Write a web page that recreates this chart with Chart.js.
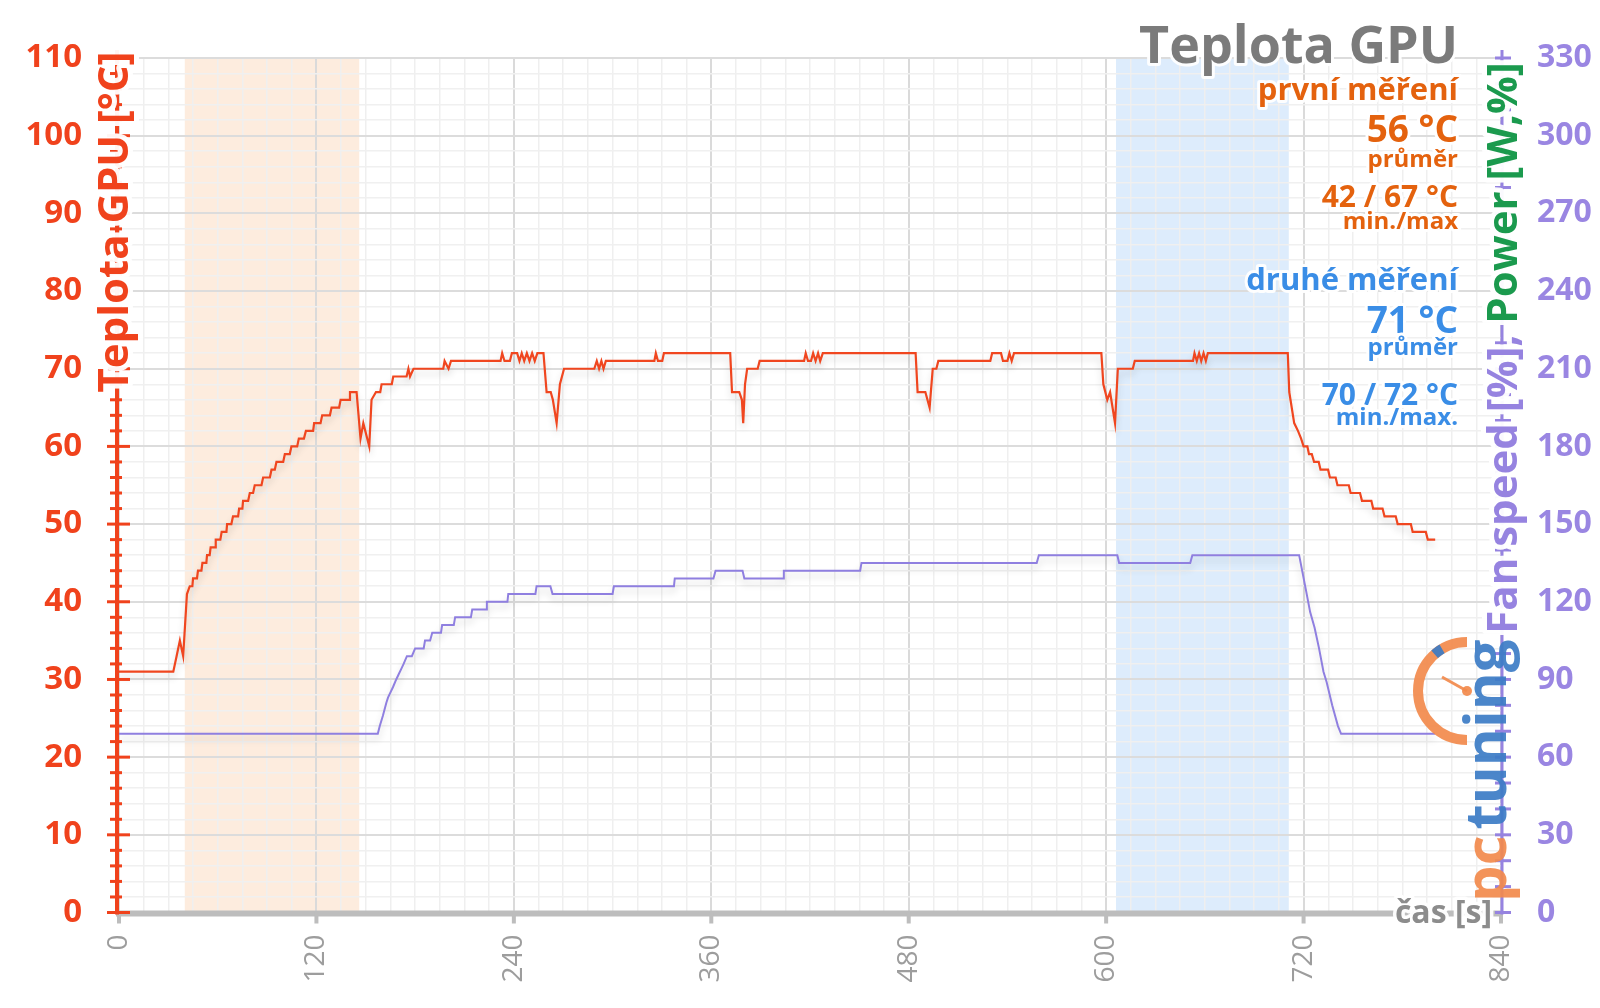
<!DOCTYPE html>
<html lang="cs">
<head>
<meta charset="UTF-8">
<title>Teplota GPU</title>
<script src="https://cdn.jsdelivr.net/npm/chart.js"></script>
<style>
  html, body { margin: 0; padding: 0; background: #fff; }
  #graf { display: block; }
</style>
</head>
<body>
<canvas id="graf" width="1600" height="1008"></canvas>
<script>
// teplota GPU [°C] v case [s]
const tempTime = [
  0, 33, 35, 37, 39, 41.3,
  43, 44.6, 45, 47.4, 48, 50.1, 50.7, 53.1, 53.5, 55.1,
  55.7, 58.4, 58.8, 61.6, 62.4, 65.3, 65.7, 68.3, 69.3, 72.4,
  73, 75, 75.4, 78.5, 79.5, 81.5, 82.5, 86.6, 87.6, 91.7,
  92.7, 94.7, 95.7, 99.8, 100.8, 103.8, 104.8, 108.3, 109.3, 112.4,
  113.6, 118, 118.6, 122.5, 123.5, 128.2, 129.2, 133.8, 134.7, 139.9,
  140.4, 144.4, 146.8, 148.5, 152.1, 153.5, 156.2, 158.8, 159.6, 165.8,
  166.7, 174.8, 175.9, 176.9, 179, 197.1, 197.9, 200.3, 201.8, 231.9,
  232.9, 234.3, 237.6, 238.8, 242, 243.4, 244.8, 246.3, 247.9, 249.5,
  251.1, 252.7, 254.3, 258, 259.9, 262.4, 263.7, 266, 268, 270.5,
  288.9, 290.4, 291.8, 293.2, 294.5, 295.9, 325.4, 326.3, 327.6, 330.2,
  331.2, 371.5, 372.6, 377, 378.6, 379.4, 380.5, 381.8, 388.2, 389.4,
  416.4, 417.4, 418.8, 420.6, 421.9, 423.4, 424.9, 426.2, 427.8, 484.2,
  485.4, 490.1, 492.7, 494.6, 496.8, 498, 529.6, 530.7, 536.1, 537.3,
  540, 541.2, 542.6, 544, 597.1, 598.3, 600.7, 602.4, 605.4, 607.1,
  616.2, 617.4, 652.8, 653.7, 655.1, 656.5, 657.8, 659.2, 660.6, 661.8,
  710.4, 711.3, 714.3, 716.6, 718.5, 720, 722.3, 723.3, 725, 726.4,
  729.2, 730.3, 734.9, 736, 739.5, 740.6, 747.5, 748.6, 754.3, 755.5,
  761.2, 762.3, 768, 769.2, 776, 777.2, 785.2, 786.3, 794.3, 795.5, 800
];
const tempValues = [
  31, 31, 33, 35, 33, 41,
  42, 42, 43, 43, 44, 44, 45, 45, 46, 46,
  47, 47, 48, 48, 49, 49, 50, 50, 51, 51,
  52, 52, 53, 53, 54, 54, 55, 55, 56, 56,
  57, 57, 58, 58, 59, 59, 60, 60, 61, 61,
  62, 62, 63, 63, 64, 64, 65, 65, 66, 66,
  67, 67, 61, 63, 60, 66, 67, 67, 68, 68,
  69, 69, 70, 69, 70, 70, 71, 70, 71, 71,
  72, 71, 71, 72, 72, 71, 72, 71, 72, 71,
  72, 71, 72, 72, 67, 67, 66, 63, 68, 70,
  70, 71, 70, 71, 70, 71, 71, 72, 71, 71,
  72, 72, 67, 67, 66, 63, 68, 70, 70, 71,
  71, 72, 71, 71, 72, 71, 72, 71, 72, 72,
  67, 67, 65, 70, 70, 71, 71, 72, 72, 71,
  71, 72, 71, 72, 72, 68, 66, 67, 63, 70,
  70, 71, 71, 72, 71, 72, 71, 72, 71, 72,
  72, 67, 63, 62, 61, 60, 60, 59, 59, 58,
  58, 57, 57, 56, 56, 55, 55, 54, 54, 53,
  53, 52, 52, 51, 51, 50, 50, 49, 49, 48, 48
];

// fan speed (prava osa)
const fanTime = [
  0, 157.3, 158.5, 160.4, 162.5, 163.5, 165, 166.5, 168.5, 170, 171.5, 173,
  175, 178, 180, 185.2, 186, 189.1, 190.4, 195.7, 196.4, 203.5,
  204.3, 213.9, 214.7, 223.1, 223.6, 236.1, 236.6, 253.1, 253.8, 262.2,
  263.5, 300, 300.8, 337.3, 337.8, 361.3, 362.6, 379, 380.1, 403.6,
  404.1, 450.5, 451.3, 557.8, 559.1, 606.8, 607.9, 651.1, 652.4, 717.3,
  721.3, 724, 726.7, 729.4, 732.1, 734, 737.4, 740.9, 742.8, 800
];
const fanValues = [
  69, 69, 72, 76, 81, 83, 85, 87, 90, 92, 94, 96,
  99, 99, 102, 102, 105, 105, 108, 108, 111, 111,
  114, 114, 117, 117, 120, 120, 123, 123, 126, 126,
  123, 123, 126, 126, 129, 129, 132, 132, 129, 129,
  132, 132, 135, 135, 138, 138, 135, 135, 138, 138,
  125, 116, 110, 102, 93, 89, 80, 72, 69, 69
];

// zvyraznene useky mereni [s]
const bandRanges = [[40, 146], [606, 711]];

// popisky os
const xTickLabels = [0, 120, 240, 360, 480, 600, 720, 840];
const yTickLabels = [0, 10, 20, 30, 40, 50, 60, 70, 80, 90, 100, 110];
const y1TickLabels = [0, 30, 60, 90, 120, 150, 180, 210, 240, 270, 300, 330];

const FONT = '"Open Sans", sans-serif';
const RED = '#f0421c';
const PURPLE = '#9683e0';
const GREEN = '#1b9a4e';
const ORANGE = '#e4620e';
const BLUE = '#3a8de6';

function line(ctx, x1, y1, x2, y2) {
    ctx.beginPath();
    ctx.moveTo(x1, y1);
    ctx.lineTo(x2, y2);
    ctx.stroke();
}

function haloText(ctx, text, x, y, color, halo) {
    ctx.lineJoin = 'round';
    ctx.strokeStyle = 'rgba(255,255,255,0.95)';
    ctx.lineWidth = halo;
    ctx.strokeText(text, x, y);
    ctx.fillStyle = color;
    ctx.fillText(text, x, y);
}

// pozadi: barevne useky
const bandsPlugin = {
    id: 'bands',
    beforeDraw(chart) {
        const { ctx, chartArea: a, scales: { x } } = chart;
        const colors = ['rgba(250, 200, 160, 0.35)', 'rgba(150, 195, 245, 0.32)'];
        ctx.save();
        bandRanges.forEach((r, i) => {
            const x1 = x.getPixelForValue(r[0]);
            const x2 = x.getPixelForValue(r[1]);
            ctx.fillStyle = colors[i];
            ctx.fillRect(x1, a.top, x2 - x1, a.bottom - a.top);
        });
        ctx.restore();
    }
};

// jemny stin pod krivkami
const shadowPlugin = {
    id: 'lineShadow',
    beforeDatasetsDraw(chart) {
        const ctx = chart.ctx;
        ctx.save();
        ctx.shadowColor = 'rgba(0,0,0,0.16)';
        ctx.shadowBlur = 7;
        ctx.shadowOffsetY = 5;
    },
    afterDatasetsDraw(chart) {
        chart.ctx.restore();
    }
};

// osy, nadpisy, texty a logo
const decorPlugin = {
    id: 'decor',
    afterDraw(chart) {
        const { ctx, chartArea: a, scales: { x, y, y1 } } = chart;
        ctx.save();

        // spodni osa
        ctx.strokeStyle = '#bdbdbd';
        ctx.lineWidth = 6;
        line(ctx, a.left - 3, a.bottom + 1, a.right, a.bottom + 1);
        ctx.lineWidth = 4;
        xTickLabels.forEach(v => {
            const p = x.getPixelForValue(v);
            line(ctx, p, a.bottom, p, a.bottom + 11);
        });

        // leva osa
        const lx = a.left - 2;
        ctx.strokeStyle = RED;
        ctx.lineWidth = 4;
        line(ctx, lx, a.top - 8, lx, a.bottom + 2);
        ctx.lineWidth = 3;
        y.ticks.forEach(t => {
            const p = y.getPixelForValue(t.value);
            if (yTickLabels.includes(t.value)) line(ctx, lx - 10, p, lx + 13, p);
            else line(ctx, lx - 7, p, lx + 5, p);
        });

        // prava osa
        const rx = a.right + 1;
        ctx.strokeStyle = PURPLE;
        ctx.lineWidth = 3;
        line(ctx, rx, a.top - 8, rx, a.bottom + 2);
        y1.ticks.forEach(t => {
            const p = y1.getPixelForValue(t.value);
            line(ctx, rx - 7, p, rx + 9, p);
        });

        // nazev leve osy
        ctx.save();
        ctx.font = 'bold 42px ' + FONT;
        ctx.textBaseline = 'alphabetic';
        ctx.textAlign = 'center';
        ctx.translate(128, 222);
        ctx.rotate(-Math.PI / 2);
        haloText(ctx, 'Teplota GPU [°C]', 0, 0, RED, 10);
        ctx.restore();

        // nazev prave osy
        ctx.save();
        ctx.font = 'bold 42px ' + FONT;
        ctx.textBaseline = 'alphabetic';
        ctx.textAlign = 'left';
        ctx.translate(1517, 348);
        ctx.rotate(-Math.PI / 2);
        const parts = [['Fan speed [%],', PURPLE], [' Power [W,%]', GREEN]];
        const total = parts.reduce((s, p) => s + ctx.measureText(p[0]).width, 0);
        let pos = -total / 2;
        parts.forEach(p => {
            haloText(ctx, p[0], pos, 0, p[1], 10);
            pos += ctx.measureText(p[0]).width;
        });
        ctx.restore();

        // popisek casove osy
        ctx.font = 'bold 32px ' + FONT;
        ctx.textAlign = 'right';
        ctx.textBaseline = 'alphabetic';
        haloText(ctx, 'čas [s]', 1492, 923, '#8c8c8c', 7);

        // textovy blok vpravo nahore
        const tx = 1458;
        const rows = [
            ['Teplota GPU', 'bold 52px', 63, '#7b7b7b'],
            ['první měření', 'bold 31px', 100, ORANGE],
            ['56 °C', 'bold 37px', 142, ORANGE],
            ['průměr', 'bold 24px', 167, ORANGE],
            ['42 / 67 °C', 'bold 30px', 207, ORANGE],
            ['min./max', 'bold 24px', 229, ORANGE],
            ['druhé měření', 'bold 31px', 290, BLUE],
            ['71 °C', 'bold 37px', 333, BLUE],
            ['průměr', 'bold 24px', 355, BLUE],
            ['70 / 72 °C', 'bold 30px', 405, BLUE],
            ['min./max.', 'bold 24px', 425, BLUE]
        ];
        rows.forEach(r => {
            ctx.font = r[1] + ' ' + FONT;
            haloText(ctx, r[0], tx, r[2], r[3], 6);
        });

        // logo pctuning
        ctx.save();
        ctx.globalAlpha = 0.92;
        const cx = 1467, cy = 691;
        ctx.strokeStyle = '#f28a4c';
        ctx.lineWidth = 10;
        ctx.beginPath();
        ctx.arc(cx, cy, 49, Math.PI / 2, Math.PI * 1.5);
        ctx.stroke();
        ctx.strokeStyle = '#3c7cc6';
        ctx.beginPath();
        ctx.arc(cx, cy, 49, Math.PI * 1.27, Math.PI * 1.33);
        ctx.stroke();
        ctx.strokeStyle = '#f28a4c';
        ctx.lineWidth = 3;
        line(ctx, cx, cy, cx - 25, cy - 14);
        ctx.fillStyle = '#f28a4c';
        ctx.beginPath();
        ctx.arc(cx, cy, 5, 0, Math.PI * 2);
        ctx.fill();
        ctx.translate(1506, 902);
        ctx.rotate(-Math.PI / 2);
        ctx.font = 'bold 58px ' + FONT;
        ctx.textAlign = 'left';
        ctx.fillStyle = '#f28a4c';
        ctx.fillText('pc', 0, 0);
        const w = ctx.measureText('pc').width;
        ctx.fillStyle = '#3c7cc6';
        ctx.fillText('tuning', w + 6, 0);
        ctx.restore();

        ctx.restore();
    }
};

const dadosTeplota = tempTime.map((t, i) => ({ x: t, y: tempValues[i] }));
const dadosFan = fanTime.map((t, i) => ({ x: t, y: fanValues[i] }));

const config = {
    type: 'line',
    data: {
        datasets: [{
            label: 'Teplota GPU',
            data: dadosTeplota,
            yAxisID: 'y',
            borderColor: '#f0461f',
            borderWidth: 2.2,
            pointRadius: 0,
            tension: 0,
            order: 0
        }, {
            label: 'Fan speed',
            data: dadosFan,
            yAxisID: 'y1',
            borderColor: '#8f7fe0',
            borderWidth: 2,
            pointRadius: 0,
            tension: 0,
            order: 1
        }]
    },
    options: {
        responsive: false,
        animation: false,
        devicePixelRatio: 1,
        layout: { padding: { top: 58 } },
        plugins: {
            legend: { display: false },
            tooltip: { enabled: false }
        },
        scales: {
            x: {
                type: 'linear',
                min: 0,
                max: 840,
                border: { display: false },
                grid: {
                    drawTicks: false,
                    color: c => xTickLabels.includes(c.tick.value) ? '#dadada' : '#efefef',
                    lineWidth: c => xTickLabels.includes(c.tick.value) ? 2 : 1.5
                },
                ticks: {
                    stepSize: 15,
                    autoSkip: false,
                    minRotation: 90,
                    maxRotation: 90,
                    padding: 22,
                    color: '#9d9d9d',
                    font: { family: FONT, size: 28 },
                    callback: v => xTickLabels.includes(v) ? String(v) : ''
                },
                afterFit: s => { s.height = 95.5; }
            },
            y: {
                position: 'left',
                min: 0,
                max: 110,
                border: { display: false },
                grid: {
                    drawTicks: false,
                    color: c => yTickLabels.includes(c.tick.value) ? '#dcdcdc' : '#f0f0f0',
                    lineWidth: c => yTickLabels.includes(c.tick.value) ? 2 : 1.5
                },
                ticks: {
                    stepSize: 2,
                    autoSkip: false,
                    padding: 37,
                    color: RED,
                    font: { family: FONT, size: 33, weight: 'bold' },
                    callback: v => yTickLabels.includes(v) ? String(v) : ''
                },
                afterFit: s => { s.width = 119; }
            },
            y1: {
                position: 'right',
                min: 0,
                max: 330,
                border: { display: false },
                grid: { display: false, drawTicks: false },
                ticks: {
                    stepSize: 10,
                    autoSkip: false,
                    padding: 36,
                    color: '#9a86e2',
                    font: { family: FONT, size: 32, weight: 'bold' },
                    callback: v => y1TickLabels.includes(v) ? String(v) : ''
                },
                afterFit: s => { s.width = 99; }
            }
        }
    },
    plugins: [bandsPlugin, shadowPlugin, decorPlugin]
};

let grafico = new Chart(document.getElementById('graf'), config);
</script>
</body>
</html>
